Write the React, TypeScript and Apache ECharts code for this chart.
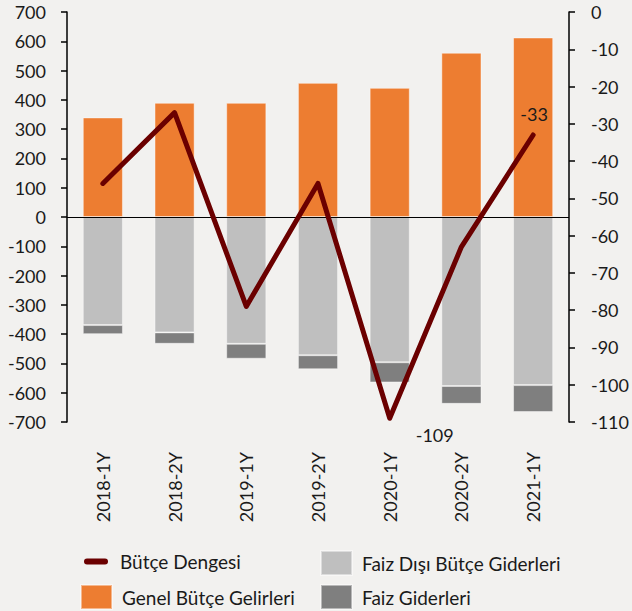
import React, { useEffect, useRef } from "react";
import * as echarts from "echarts";

const categories = ["2018-1Y", "2018-2Y", "2019-1Y", "2019-2Y", "2020-1Y", "2020-2Y", "2021-1Y"];
const revenues = [340, 390, 390, 458, 441, 561, 613];
const nonInterestExp = [-369, -394, -433, -472, -496, -577, -574];
const interestExp = [-31, -39, -51, -48, -69, -61, -92];
const budgetBalance = [-46, -27, -79, -46, -109, -63, -33];

const FONT = "Lato";
const legendText = { fontFamily: FONT, fontSize: 19, color: "#1a1a1a" };

export default function App() {
  const ref = useRef<HTMLDivElement>(null);
  useEffect(() => {
    document.body.style.margin = "0";
    const chart = echarts.init(ref.current!, null, { renderer: "svg" });
    const lineData = budgetBalance.map((v, i) => {
      if (i === 4)
        return { value: v, label: { show: true, position: "bottom", offset: [45, 2] } };
      if (i === 6)
        return { value: v, label: { show: true, position: "top", offset: [1, -7] } };
      return { value: v };
    });
    const boxLegend = (name: string, left: number, top: number) => ({
      left,
      top,
      padding: 0,
      itemWidth: 31,
      itemHeight: 24,
      textStyle: { ...legendText, padding: [0, 0, 0, 5] },
      data: [{ name, icon: "rect" }],
    });
    chart.setOption({
      animation: false,
      backgroundColor: "#f2f1ef",
      textStyle: { fontFamily: FONT },
      grid: { left: 67, right: 63, top: 12, bottom: 189, containLabel: false },
      legend: [
        {
          left: 84,
          top: 552,
          padding: 0,
          itemWidth: 24,
          itemHeight: 6,
          textStyle: { ...legendText, padding: [0, 0, 0, 7] },
          data: [
            {
              name: "Bütçe Dengesi",
              icon: "path://M3,0h18a3,3 0 0 1 0,6h-18a3,3 0 0 1 0,-6z",
            },
          ],
        },
        boxLegend("Genel Bütçe Gelirleri", 80, 584),
        boxLegend("Faiz Dışı Bütçe Giderleri", 320, 550),
        boxLegend("Faiz Giderleri", 320, 584),
      ],
      xAxis: {
        type: "category",
        data: categories,
        axisLine: { show: false },
        axisTick: { show: false },
        axisLabel: { rotate: 90, margin: 30, fontSize: 18, color: "#1a1a1a", fontFamily: FONT },
      },
      yAxis: [
        {
          type: "value",
          min: -700,
          max: 700,
          interval: 100,
          splitLine: { show: false },
          axisLine: { show: true, lineStyle: { color: "#000", width: 1.5 } },
          axisTick: { show: true, length: 6, lineStyle: { color: "#000", width: 1.5 } },
          axisLabel: { margin: 21, fontSize: 18, color: "#1a1a1a", fontFamily: FONT },
        },
        {
          type: "value",
          min: -110,
          max: 0,
          interval: 10,
          position: "right",
          splitLine: { show: false },
          axisLine: { show: true, lineStyle: { color: "#000", width: 1.5 } },
          axisTick: { show: true, length: 6, lineStyle: { color: "#000", width: 1.5 } },
          axisLabel: { margin: 22, fontSize: 18, color: "#1a1a1a", fontFamily: FONT },
        },
      ],
      series: [
        {
          name: "Genel Bütçe Gelirleri",
          type: "bar",
          stack: "a",
          barWidth: "56%",
          data: revenues,
          itemStyle: { color: "#ed7d31", borderColor: "rgba(255,255,255,0.45)", borderWidth: 1 },
          markLine: {
            silent: true,
            symbol: "none",
            label: { show: false },
            lineStyle: { color: "#000", width: 1.2, type: "solid" },
            data: [{ yAxis: 0 }],
          },
          z: 2,
        },
        {
          name: "Faiz Dışı Bütçe Giderleri",
          type: "bar",
          stack: "a",
          data: nonInterestExp,
          itemStyle: { color: "#bfbfbf", borderColor: "rgba(255,255,255,0.45)", borderWidth: 1 },
          z: 2,
        },
        {
          name: "Faiz Giderleri",
          type: "bar",
          stack: "a",
          data: interestExp,
          itemStyle: { color: "#7f7f7f", borderColor: "rgba(255,255,255,0.45)", borderWidth: 1 },
          z: 2,
        },
        {
          name: "Bütçe Dengesi",
          type: "line",
          yAxisIndex: 1,
          data: lineData,
          symbol: "circle",
          symbolSize: 1,
          showSymbol: true,
          lineStyle: { color: "#6b0000", width: 5, cap: "round", join: "round" },
          itemStyle: { color: "#6b0000" },
          label: { show: false, fontSize: 18, color: "#1a1a1a", fontFamily: FONT },
          z: 5,
        },
      ],
    });
    return () => chart.dispose();
  }, []);
  return (
    <div
      ref={ref}
      style={{ position: "fixed", left: 0, top: 0, width: 632, height: 611 }}
    />
  );
}
